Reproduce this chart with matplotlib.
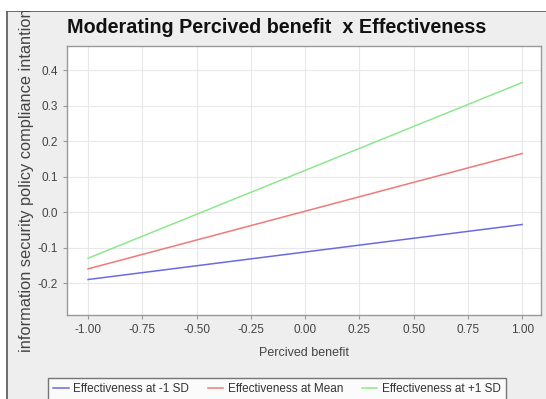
import matplotlib
matplotlib.use("Agg")
import matplotlib.pyplot as plt
from matplotlib.patches import Rectangle
from matplotlib.ticker import FormatStrFormatter

# data
benefit = [-1.0, 1.0]
eff_low = [-0.19, -0.035]
eff_mean = [-0.16, 0.165]
eff_high = [-0.13, 0.365]
series_labels = ["Effectiveness at -1 SD", "Effectiveness at Mean", "Effectiveness at +1 SD"]
x_ticks = [-1.0, -0.75, -0.5, -0.25, 0.0, 0.25, 0.5, 0.75, 1.0]
y_ticks = [-0.2, -0.1, 0.0, 0.1, 0.2, 0.3, 0.4]

plt.rcParams['font.family'] = ['Liberation Sans', 'DejaVu Sans']

W, H = 546, 399
fig = plt.figure(figsize=(W / 100, H / 100), dpi=100)
fig.patch.set_facecolor('white')

# gray panel with dark frame
panel = Rectangle((7 / W, -0.01), 1.0, 1 - 11 / H + 0.01, transform=fig.transFigure,
                  facecolor='#eeeeee', edgecolor='#555555', lw=1.2, zorder=0)
fig.add_artist(panel)

ax = fig.add_axes([67 / W, 1 - 315 / H, (541 - 67) / W, (315 - 46) / H])
ax.set_facecolor('white')

ax.plot(benefit, eff_low, color='#6a6ae6', lw=1.1, label=series_labels[0])
ax.plot(benefit, eff_mean, color='#ee7a7a', lw=1.1, label=series_labels[1])
ax.plot(benefit, eff_high, color='#8de88d', lw=1.1, label=series_labels[2])

ax.set_xlim(-1.097, 1.087)
ax.set_ylim(-0.29, 0.468)
ax.set_xticks(x_ticks)
ax.set_yticks(y_ticks)
ax.xaxis.set_major_formatter(FormatStrFormatter('%.2f'))
ax.yaxis.set_major_formatter(FormatStrFormatter('%.1f'))
ax.tick_params(colors='#999999', labelcolor='#444444', labelsize=8.5, length=3, width=0.8)
ax.grid(True, color='#e8e8e8', lw=0.8)
for s in ax.spines.values():
    s.set_color('#999999')
    s.set_linewidth(1)

ax.set_xlabel('Percived benefit', fontsize=9, color='#444444', labelpad=8)

fig.text(67 / W, 1 - 33 / H, 'Moderating Percived benefit  x Effectiveness',
         fontsize=14.2, fontweight='bold', color='#111111', va='baseline', ha='left')

fig.text(27 / W, 1 - (46 + 315) / 2 / H, 'information security policy compliance intantion',
         rotation=90, fontsize=11.8, color='#444444', va='center', ha='center', zorder=3)

# white strip above the frame hides the top of the y label
fig.add_artist(Rectangle((0, 1 - 10.5 / H), 1, 10.5 / H, transform=fig.transFigure,
                         facecolor='white', edgecolor='none', zorder=5))

leg = fig.legend(loc='upper left', ncol=3, mode='expand',
                 bbox_to_anchor=(42 / W, 1 - 372 / H, (512 - 42) / W, 0.001),
                 fontsize=8.5, frameon=True, fancybox=False, handlelength=1.3,
                 handletextpad=0.4, borderpad=0.45, columnspacing=1.0)
leg.get_frame().set_edgecolor('#555555')
leg.get_frame().set_linewidth(1)
for t in leg.get_texts():
    t.set_color('#333333')

fig.savefig('out.png', dpi=100)
